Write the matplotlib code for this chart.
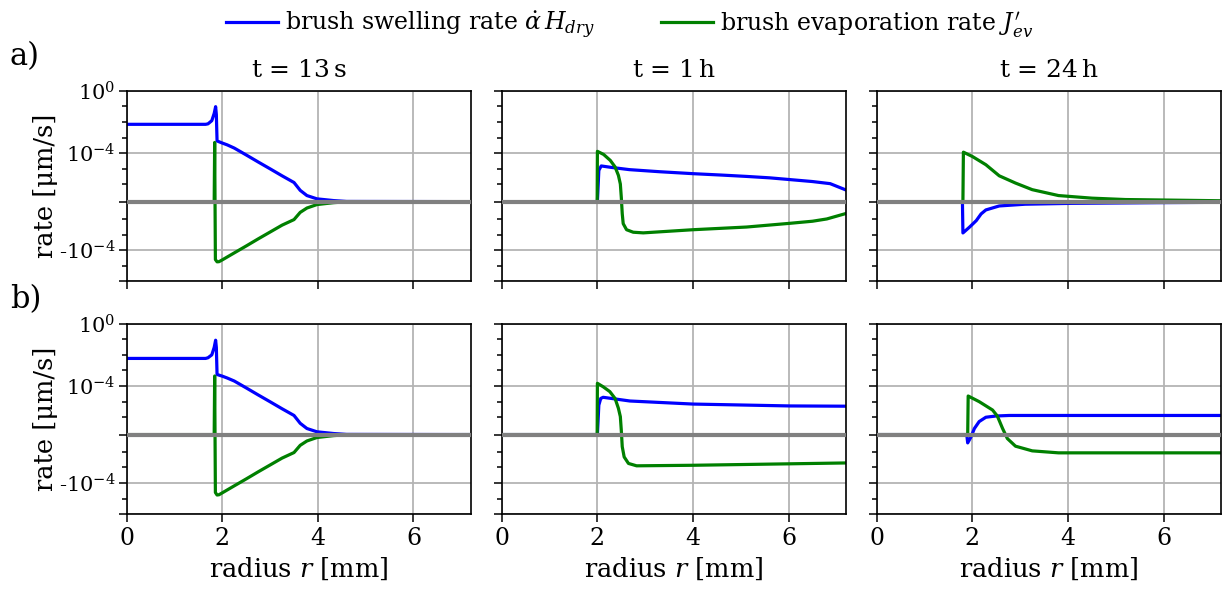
import matplotlib
matplotlib.use("Agg")
import matplotlib.pyplot as plt
from matplotlib.ticker import FixedLocator, FixedFormatter

plt.rcParams["font.family"] = ["DejaVu Serif"]
plt.rcParams["mathtext.fontset"] = "dejavuserif"

# radius [mm] and rates [um/s], row a)
r_sw_a13 = [0, 1.65, 1.70, 1.78, 1.83, 1.86, 1.875, 1.89, 2.0, 2.1, 2.25, 2.5, 2.75, 3.0, 3.25, 3.5, 3.63, 3.77, 3.98, 4.33, 4.6, 7.2]
sw_a13 = [7e-3, 7e-3, 7.5e-3, 1.2e-2, 3.5e-2, 9.5e-2, 3e-2, 6e-4, 4.4e-4, 3.4e-4, 2.1e-4, 7.6e-5, 2.7e-5, 9.8e-6, 3.5e-6, 1.3e-6,
          6.5e-7, 3.5e-7, 1.6e-7, 6e-8, 1e-8, 0]
r_ev_a13 = [0, 1.83, 1.84, 1.855, 1.89, 1.93, 2.0, 2.25, 2.5, 2.75, 3.0, 3.25, 3.5, 3.63, 3.77, 3.98, 4.33, 4.6, 7.2]
ev_a13 = [0, 0, 4.8e-4, -4e-4, -5.6e-4, -5.5e-4, -4.2e-4, -1.5e-4, -5.4e-5, -1.9e-5, -6.9e-6, -2.5e-6, -1.1e-6,
          -6.2e-7, -3.7e-7, -1.7e-7, -6e-8, -1e-8, 0]

r_sw_a1 = [0, 2.0, 2.03, 2.08, 2.3, 2.67, 3.3, 4.0, 4.6, 5.12, 5.6, 6.03, 6.5, 6.87, 7.22]
sw_a1 = [0, 0, 7.8e-6, 1.5e-5, 1.2e-5, 8.7e-6, 6.4e-6, 4.8e-6, 3.9e-6, 3.2e-6, 2.6e-6, 2e-6, 1.5e-6, 1.1e-6, 6.5e-7]
r_ev_a1 = [0, 1.995, 2.0, 2.13, 2.27, 2.37, 2.44, 2.48, 2.5, 2.52, 2.54, 2.61, 2.75, 2.96, 4.0, 5.12, 6.03, 6.5, 6.8, 7.22]
ev_a1 = [0, 0, 1.3e-4, 8.2e-5, 3.4e-5, 1.3e-5, 3.7e-6, 1.05e-6, 2.5e-7, -7e-7, -2e-6, -4.9e-6, -7.1e-6, -7.8e-6,
         -4.9e-6, -3.3e-6, -1.9e-6, -1.4e-6, -1e-6, -6.7e-7]

r_sw_a24 = [0, 1.79, 1.80, 1.94, 2.08, 2.18, 2.28, 2.56, 3.1, 4.07, 5.88, 7.2]
sw_a24 = [0, 0, -7.9e-6, -3.3e-6, -1.27e-6, -7.1e-7, -4.8e-7, -2.5e-7, -1.5e-7, -1e-7, -6e-8, -4e-8]
r_ev_a24 = [0, 1.80, 1.81, 2.0, 2.28, 2.56, 2.9, 3.25, 3.8, 4.5, 5.2, 7.2]
ev_a24 = [0, 0, 1.15e-4, 6e-5, 1.8e-5, 3.5e-6, 1.2e-6, 6.9e-7, 3.5e-7, 2e-7, 1.2e-7, 5e-8]

# row b)
r_sw_b13 = [0, 1.65, 1.70, 1.78, 1.83, 1.86, 1.875, 1.89, 2.0, 2.1, 2.25, 2.5, 2.75, 3.0, 3.25, 3.5, 3.63, 3.77, 3.98, 4.33, 4.6, 7.2]
sw_b13 = [5.9e-3, 5.9e-3, 6.5e-3, 1e-2, 3e-2, 8.7e-2, 3e-2, 5.5e-4, 4.3e-4, 3.3e-4, 2.1e-4, 7.6e-5, 2.7e-5, 9.8e-6, 3.5e-6, 1.3e-6,
          6.5e-7, 3.5e-7, 1.6e-7, 6e-8, 1e-8, 0]
r_ev_b13 = [0, 1.83, 1.84, 1.855, 1.89, 1.93, 2.0, 2.25, 2.5, 2.75, 3.0, 3.25, 3.5, 3.63, 3.77, 3.98, 4.33, 4.6, 7.2]
ev_b13 = [0, 0, 4.4e-4, -4e-4, -5.8e-4, -5.6e-4, -4.2e-4, -1.5e-4, -5.4e-5, -1.9e-5, -6.9e-6, -2.5e-6, -1.1e-6,
          -6.2e-7, -3.7e-7, -1.7e-7, -6e-8, -1e-8, 0]

r_sw_b1 = [0, 2.0, 2.03, 2.07, 2.12, 2.68, 4.0, 6.03, 7.22]
sw_b1 = [0, 0, 6e-6, 1.6e-5, 1.9e-5, 1.1e-5, 7e-6, 5.3e-6, 5.1e-6]
r_ev_b1 = [0, 1.995, 2.0, 2.12, 2.26, 2.37, 2.44, 2.48, 2.5, 2.52, 2.56, 2.65, 2.82, 4.0, 6.03, 7.22]
ev_b1 = [0, 0, 1.5e-4, 9e-5, 4.4e-5, 1.6e-5, 3.7e-6, 1.1e-6, 2.5e-7, -7e-7, -2.1e-6, -5.5e-6, -7.8e-6,
         -7.2e-6, -5.8e-6, -5.1e-6]

r_sw_b24 = [0, 1.88, 1.90, 1.97, 2.04, 2.14, 2.28, 2.49, 2.77, 7.2]
sw_b24 = [0, 0, -4.8e-7, -1.3e-7, 3.5e-7, 7.5e-7, 1e-6, 1.2e-6, 1.3e-6, 1.3e-6]
r_ev_b24 = [0, 1.90, 1.91, 2.14, 2.42, 2.52, 2.63, 2.73, 2.9, 3.25, 3.8, 7.2]
ev_b24 = [0, 0, 2.3e-5, 1e-5, 2.9e-6, 1.2e-6, 3.5e-7, -2.3e-7, -6.7e-7, -9.4e-7, -1.15e-6, -1.15e-6]

titles = ["t = 13$\\,$s", "t = 1$\\,$h", "t = 24$\\,$h"]
rows = [
    [(r_sw_a13, sw_a13, r_ev_a13, ev_a13), (r_sw_a1, sw_a1, r_ev_a1, ev_a1), (r_sw_a24, sw_a24, r_ev_a24, ev_a24)],
    [(r_sw_b13, sw_b13, r_ev_b13, ev_b13), (r_sw_b1, sw_b1, r_ev_b1, ev_b1), (r_sw_b24, sw_b24, r_ev_b24, ev_b24)],
]

fig, axes = plt.subplots(2, 3, figsize=(12.28, 5.96), dpi=100, sharex=True, sharey=True)
fig.subplots_adjust(left=0.1032, right=0.9943, top=0.8478, bottom=0.1371, wspace=0.09, hspace=0.222)

for i in range(2):
    for j in range(3):
        ax = axes[i, j]
        r_sw, sw, r_ev, ev = rows[i][j]
        l1, = ax.plot(r_sw, sw, color="blue", lw=2.3, zorder=2)
        l2, = ax.plot(r_ev, ev, color="green", lw=2.3, zorder=2)
        ax.axhline(0, color="gray", lw=3, zorder=3)
        ax.set_yscale("symlog", linthresh=1e-6, linscale=1)
        ax.set_ylim(-1e-2, 1)
        ax.set_xlim(0, 7.2)
        ax.set_xticks([0, 2, 4, 6])
        ax.yaxis.set_major_locator(FixedLocator([-1e-2, -1e-4, 0, 1e-4, 1]))
        ax.yaxis.set_major_formatter(FixedFormatter(["", "-10$^{-4}$", "", "10$^{-4}$", "10$^{0}$"]))
        ax.yaxis.set_minor_locator(FixedLocator([-1e-3, -1e-5, -1e-6, 1e-6, 1e-5, 1e-3, 1e-2, 1e-1]))
        ax.grid(True, which="major", color="#b4b4b4", lw=1.3, zorder=0)
        ax.tick_params(which="major", length=6, width=1.1, direction="out")
        ax.tick_params(which="minor", length=3.5, width=1.1, direction="out")
        ax.tick_params(axis="x", labelsize=17, pad=3)
        ax.tick_params(axis="y", labelsize=15, pad=2)
        for s in ax.spines.values():
            s.set_linewidth(1.2)
        if i == 0:
            ax.set_title(titles[j], fontsize=18, pad=10)
        if i == 1:
            ax.set_xlabel("radius $r$ [mm]", fontsize=18.5, labelpad=4)
        if j == 0:
            ax.set_ylabel("rate [μm/s]", fontsize=18.5)
            ax.yaxis.set_label_coords(-0.2, 0.5)

fig.text(0.008, 0.905, "a)", fontsize=22, va="center")
fig.text(0.008, 0.497, "b)", fontsize=22, va="center")

fig.legend([l1, l2], [r"brush swelling rate $\dot{\alpha}\,H_{dry}$", r"brush evaporation rate $J_{ev}^{\prime}$"],
           loc="upper center", bbox_to_anchor=(0.513, 1.02), ncol=2, frameon=False, fontsize=17,
           handlelength=2.2, handletextpad=0.3, columnspacing=2.8)

fig.savefig("out.png", dpi=100)
